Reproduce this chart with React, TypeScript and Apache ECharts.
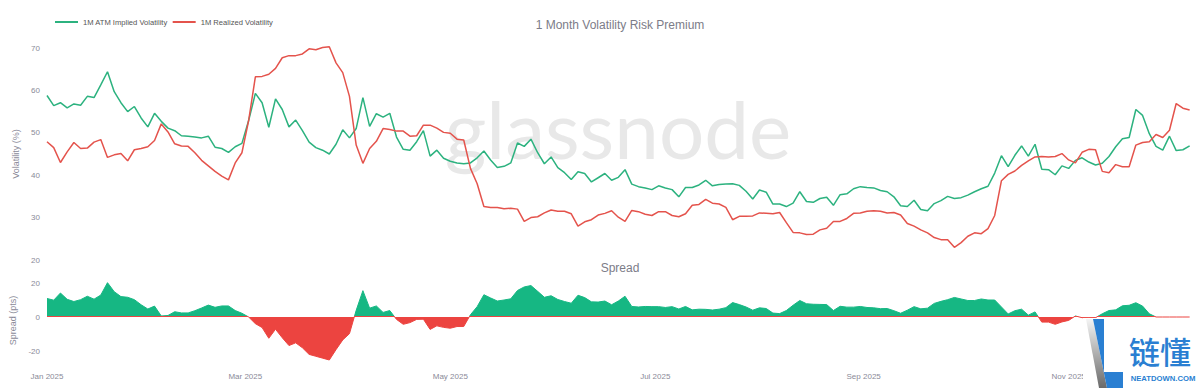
import React, { useEffect, useRef } from 'react';
import * as echarts from 'echarts';

// Data: sampled every 2 days starting 2025-01-01
const START_DATE = '2025-01-01';
const STEP_DAYS = 2;
const AXIS_END_DAY = 341;

const IMPLIED_VOL = [
  58.8, 56.4, 57.1, 55.9, 56.8, 56.5, 58.6, 58.3, 61.3, 64.4,
  59.7, 57.1, 55.0, 56.2, 53.5, 51.4, 54.6, 52.7, 51.1, 50.5,
  49.3, 49.2, 49.0, 48.8, 49.2, 46.6, 46.3, 45.4, 46.7, 47.5,
  52.9, 59.3, 57.1, 51.3, 58.0, 55.5, 51.4, 53.0, 50.5, 47.8,
  46.5, 45.9, 45.0, 47.3, 50.7, 48.8, 51.0, 58.3, 51.5, 54.5,
  53.7, 54.6, 49.0, 46.1, 45.9, 47.9, 50.5, 44.5, 45.9, 44.0,
  43.3, 42.9, 42.7, 42.9, 44.1, 45.7, 43.6, 41.8, 42.1, 42.9,
  47.6, 46.8, 48.5, 45.3, 42.7, 44.3, 41.8, 40.6, 39.0, 40.8,
  40.4, 38.4, 39.4, 40.4, 38.8, 39.5, 41.3, 37.9, 37.3, 37.0,
  36.6, 37.5, 37.0, 36.6, 34.9, 37.1, 37.1, 37.7, 38.8, 37.5,
  37.8, 37.9, 38.0, 37.6, 36.2, 34.4, 36.5, 36.0, 33.2, 33.2,
  32.6, 33.4, 36.1, 33.8, 33.6, 34.5, 34.8, 32.9, 35.4, 35.6,
  36.8, 37.3, 37.1, 37.0, 36.4, 36.1, 34.9, 32.8, 32.6, 34.1,
  31.9, 31.6, 33.3, 34.0, 35.0, 34.5, 34.7, 35.3, 36.1, 36.8,
  37.4, 40.5, 44.6, 42.0, 44.7, 46.9, 44.5, 47.3, 41.4, 41.3,
  40.1, 42.2, 41.6, 43.5, 44.1, 43.1, 42.4, 42.8, 44.4, 46.7,
  48.6, 48.9, 55.5, 54.1, 49.8, 46.8, 45.9, 49.2, 45.8, 46.0,
  46.9,
];

const REALIZED_VOL = [
  47.9, 46.5, 43.0, 45.5, 47.7, 46.3, 46.4, 47.8, 48.4, 44.2,
  44.8, 45.1, 43.4, 46.0, 46.3, 46.7, 48.2, 52.1, 50.2, 47.4,
  46.9, 46.8, 45.3, 43.5, 42.2, 40.9, 39.8, 38.9, 42.9, 45.3,
  52.9, 63.2, 63.3, 63.8, 65.2, 67.7, 68.2, 68.2, 68.6, 69.8,
  69.6, 70.1, 70.3, 66.5, 64.2, 58.6, 47.1, 42.8, 46.3, 48.0,
  51.0, 50.8, 50.4, 50.4, 49.2, 49.3, 51.8, 51.8, 51.1, 50.1,
  49.9, 48.5, 48.3, 41.6, 38.0, 32.6, 32.4, 32.4, 32.1, 32.2,
  32.0, 29.1, 30.0, 30.2, 31.1, 31.8, 31.5, 31.5, 30.9, 28.0,
  29.0, 29.5, 30.6, 31.0, 31.6, 30.1, 29.1, 31.7, 31.4, 30.8,
  30.5, 31.4, 31.4, 30.5, 30.2, 30.9, 32.9, 33.1, 34.3, 33.4,
  33.2, 32.4, 29.5, 30.3, 30.3, 30.4, 31.1, 31.0, 30.9, 31.2,
  28.8, 26.5, 26.4, 26.0, 26.1, 27.1, 27.5, 29.1, 29.1, 29.8,
  31.0, 31.1, 31.5, 31.6, 31.5, 31.1, 31.2, 30.6, 28.6, 28.0,
  27.1, 26.4, 25.3, 24.8, 24.8, 23.0, 24.1, 25.6, 26.4, 26.2,
  27.4, 30.5, 38.7, 40.2, 41.0, 42.3, 43.4, 44.3, 44.4, 44.3,
  44.4, 45.1, 43.6, 42.9, 45.4, 46.1, 46.0, 40.9, 40.6, 42.5,
  42.0, 42.0, 47.1, 47.7, 47.9, 49.6, 48.9, 50.6, 56.9, 55.8,
  55.4,
];

const SPREAD = [
  10.9, 9.9, 14.1, 10.4, 9.1, 10.2, 12.2, 10.5, 12.9, 20.2,
  14.9, 12.0, 11.6, 10.2, 7.2, 4.7, 6.4, 0.6, 0.9, 3.1,
  2.4, 2.4, 3.7, 5.3, 7.0, 5.7, 6.5, 6.5, 3.8, 2.2,
  0.0, -3.9, -6.2, -12.5, -7.2, -12.2, -16.8, -15.2, -18.1, -22.0,
  -23.1, -24.2, -25.3, -19.2, -13.5, -9.8, 3.9, 15.5, 5.2, 6.5,
  2.7, 3.8, -1.4, -4.3, -3.3, -1.4, -1.3, -7.3, -5.2, -6.1,
  -6.6, -5.6, -5.6, 1.3, 6.1, 13.1, 11.2, 9.4, 10.0, 10.7,
  15.6, 17.7, 18.5, 15.1, 11.6, 12.5, 10.3, 9.1, 8.1, 12.8,
  11.4, 8.9, 8.8, 9.4, 7.2, 9.4, 12.2, 6.2, 5.9, 6.2,
  6.1, 6.1, 5.6, 6.1, 4.7, 6.2, 4.2, 4.6, 4.5, 4.1,
  4.6, 5.5, 8.5, 7.3, 5.9, 4.0, 5.4, 5.0, 2.3, 2.0,
  3.8, 6.9, 9.7, 7.8, 7.5, 7.4, 7.3, 3.8, 6.3, 5.8,
  5.8, 6.2, 5.6, 5.4, 4.9, 5.0, 3.7, 2.2, 4.0, 6.1,
  4.8, 5.2, 8.0, 9.2, 10.2, 11.5, 10.6, 9.7, 9.7, 10.6,
  10.0, 10.0, 5.9, 1.8, 3.7, 4.6, 1.1, 3.0, -3.0, -3.0,
  -4.3, -2.9, -2.0, 0.6, -0.4, -0.5, -0.4, 1.9, 3.8, 4.2,
  6.6, 6.9, 8.4, 6.4, 1.9, 0.0, 0.0, 0.0, 0.0, 0.0,
  0.0,
];

const VOL_TICKS = [20, 30, 40, 50, 60, 70];
const SPREAD_TICKS = [-20, 0, 20];
const SPREAD_MIN = -26;
const SPREAD_MAX = 22;

const SERIES_NAMES = ['1M ATM Implied Volatility', '1M Realized Volatility'];

const GREEN = '#2cb27f';
const RED = '#e4534c';
const FILL_GREEN = '#16b783';
const FILL_RED = '#ec4440';
const LABEL = '#8a8a98';
const FONT = '"Liberation Sans", Arial, Helvetica, sans-serif';
const DAY = 86400000;

export default function App() {
  const ref = useRef<HTMLDivElement>(null);

  useEffect(() => {
    document.body.style.margin = '0';
    const chart = echarts.init(ref.current as HTMLDivElement, null, { renderer: 'svg' });
    const [y, m, d] = START_DATE.split('-').map(Number);
    const start = new Date(y, m - 1, d).getTime();
    const end = start + AXIS_END_DAY * DAY;
    const times = IMPLIED_VOL.map((_, i) => start + i * STEP_DAYS * DAY);

    const g2Top = 279.6;
    const g2Height = 81.6;
    // zero line position inside the spread grid, as a fraction (used for the two-tone fill)
    const zeroFrac = SPREAD_MAX / (SPREAD_MAX - SPREAD_MIN) - 0.008;
    const twoTone = new echarts.graphic.LinearGradient(
      0, g2Top, 0, g2Top + g2Height,
      [
        { offset: 0, color: FILL_GREEN },
        { offset: zeroFrac, color: FILL_GREEN },
        { offset: zeroFrac, color: FILL_RED },
        { offset: 1, color: FILL_RED },
      ],
      true
    );

    const baseX = {
      type: 'time',
      min: start,
      max: end,
      splitNumber: 5,
      axisLine: { show: false },
      axisTick: { show: false },
      splitLine: { show: false },
    };

    const option: any = {
      animation: false,
      backgroundColor: '#ffffff',
      textStyle: { fontFamily: FONT },
      legend: {
        data: SERIES_NAMES,
        left: 50,
        top: 13,
        icon: 'rect',
        itemWidth: 23,
        itemHeight: 2,
        itemGap: 5,
        textStyle: { fontSize: 7.6, color: '#555', fontFamily: FONT },
      },
      grid: [
        { left: 47, top: 48, width: 1146, height: 212 },
        { left: 47, top: g2Top, width: 1146, height: g2Height },
      ],
      xAxis: [
        { ...baseX, gridIndex: 0, axisLabel: { show: false } },
        {
          ...baseX,
          gridIndex: 1,
          axisLabel: {
            formatter: '{MMM} {yyyy}',
            fontSize: 8,
            color: LABEL,
            margin: 11,
            fontFamily: FONT,
          },
        },
      ],
      yAxis: [
        {
          type: 'value',
          gridIndex: 0,
          min: VOL_TICKS[0],
          max: VOL_TICKS[VOL_TICKS.length - 1],
          interval: 10,
          axisLine: { show: false },
          axisTick: { show: false },
          splitLine: { show: false },
          axisLabel: { fontSize: 8, color: LABEL, margin: 7, fontFamily: FONT },
          name: 'Volatility (%)',
          nameLocation: 'middle',
          nameGap: 25,
          nameTextStyle: { fontSize: 9, color: LABEL, fontFamily: FONT },
        },
        {
          type: 'value',
          gridIndex: 1,
          min: SPREAD_MIN,
          max: SPREAD_MAX,
          interval: 2,
          axisLine: { show: false },
          axisTick: { show: false },
          splitLine: { show: false },
          axisLabel: {
            fontSize: 8,
            color: LABEL,
            margin: 7,
            fontFamily: FONT,
            formatter: (v: number) => (SPREAD_TICKS.includes(Math.round(v)) ? String(Math.round(v)) : ''),
          },
          name: 'Spread (pts)',
          nameLocation: 'middle',
          nameGap: 28,
          nameTextStyle: { fontSize: 9, color: LABEL, fontFamily: FONT },
        },
      ],
      series: [
        {
          name: SERIES_NAMES[0],
          type: 'line',
          xAxisIndex: 0,
          yAxisIndex: 0,
          data: times.map((t, i) => [t, IMPLIED_VOL[i]]),
          showSymbol: false,
          clip: false,
          lineStyle: { width: 1.5, color: GREEN },
          itemStyle: { color: GREEN },
          z: 3,
        },
        {
          name: SERIES_NAMES[1],
          type: 'line',
          xAxisIndex: 0,
          yAxisIndex: 0,
          data: times.map((t, i) => [t, REALIZED_VOL[i]]),
          showSymbol: false,
          clip: false,
          lineStyle: { width: 1.5, color: RED },
          itemStyle: { color: RED },
          z: 3,
        },
        {
          name: 'Spread',
          type: 'line',
          xAxisIndex: 1,
          yAxisIndex: 1,
          data: times.map((t, i) => [t, SPREAD[i]]),
          showSymbol: false,
          lineStyle: { width: 1, color: twoTone },
          itemStyle: { color: FILL_GREEN },
          areaStyle: { opacity: 1, color: twoTone },
        },
      ],
      graphic: [
        {
          type: 'text',
          x: 618,
          y: 128,
          z: 0,
          silent: true,
          style: {
            text: 'glassnode',
            fontSize: 80,
            fontFamily: 'Lato, "Open Sans", sans-serif',
            fill: '#e8e8e8',
            textAlign: 'center',
            textVerticalAlign: 'middle',
          },
        },
        {
          type: 'text',
          x: 620,
          y: 25,
          style: {
            text: '1 Month Volatility Risk Premium',
            fontSize: 12,
            fontFamily: FONT,
            fill: '#7c7c88',
            textAlign: 'center',
            textVerticalAlign: 'middle',
          },
        },
        {
          type: 'text',
          x: 620,
          y: 268,
          style: {
            text: 'Spread',
            fontSize: 12,
            fontFamily: FONT,
            fill: '#7c7c88',
            textAlign: 'center',
            textVerticalAlign: 'middle',
          },
        },
        {
          type: 'group',
          z: 100,
          children: [
            { type: 'rect', z: 100, shape: { x: 1083, y: 318, width: 117, height: 70 }, style: { fill: '#ffffff' } },
            {
              type: 'polygon',
              z: 101,
              shape: { points: [[1086, 319], [1093, 319], [1107, 388], [1099, 388]] },
              style: {
                fill: new echarts.graphic.LinearGradient(0, 0, 0, 1, [
                  { offset: 0, color: '#f4f4f4' },
                  { offset: 1, color: '#6a6a6a' },
                ]),
              },
            },
            {
              type: 'polygon',
              z: 102,
              shape: {
                points: [[1093, 319], [1104, 319], [1104, 372], [1123, 372], [1123, 388], [1107, 388]],
              },
              style: { fill: '#2a7fd2' },
            },
            {
              type: 'text',
              z: 103,
              x: 1160,
              y: 350,
              style: {
                text: '链懂',
                fontSize: 31,
                fontFamily: '"Noto Sans CJK SC", sans-serif',
                fontWeight: 500,
                fill: '#2a7fd2',
                textAlign: 'center',
                textVerticalAlign: 'middle',
              },
            },
            {
              type: 'text',
              z: 103,
              x: 1163,
              y: 378,
              style: {
                text: 'NEATDOWN.COM',
                fontSize: 7.7,
                fontWeight: 'bold',
                fontFamily: FONT,
                fill: '#2a7fd2',
                textAlign: 'center',
                textVerticalAlign: 'middle',
              },
            },
          ],
        },
      ],
    };

    chart.setOption(option);
    return () => chart.dispose();
  }, []);

  return <div ref={ref} style={{ width: 1200, height: 388 }} />;
}
